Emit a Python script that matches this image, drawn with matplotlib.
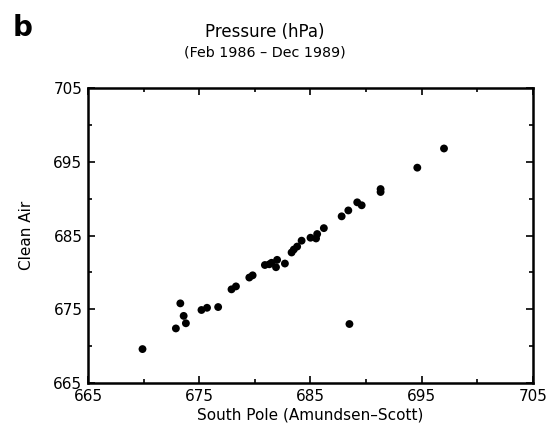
import matplotlib.pyplot as plt
import numpy as np

# South Pole vs Clean Air pressure (hPa), monthly means
south_pole = [669.9, 672.9, 673.3, 673.6, 673.8, 675.2, 675.7, 676.7, 677.9, 678.3,
              679.5, 679.8, 680.9, 681.3, 681.5, 681.9, 682.0, 682.7, 683.3, 683.5,
              683.8, 684.2, 685.0, 685.5, 685.6, 686.2, 687.8, 688.4, 689.2, 689.6,
              691.3, 691.3, 694.6, 697.0, 688.5]
clean_air = [669.6, 672.4, 675.8, 674.1, 673.1, 674.9, 675.2, 675.3, 677.7, 678.1,
             679.3, 679.6, 681.0, 681.1, 681.3, 680.7, 681.7, 681.2, 682.7, 683.1,
             683.5, 684.3, 684.7, 684.6, 685.2, 686.0, 687.6, 688.4, 689.5, 689.1,
             691.3, 690.9, 694.2, 696.8, 673.0]

ticks = [665, 675, 685, 695, 705]
tick_labels = ['665', '675', '685', '695', '705']

fig = plt.figure(figsize=(5.59, 4.30), dpi=100)
ax = fig.add_axes([0.1574, 0.1093, 0.7961, 0.686])

ax.scatter(south_pole, clean_air, s=32, color='black', edgecolors='none', zorder=3)

ax.set_xlim(665, 705)
ax.set_ylim(665, 705)
ax.set_xticks(ticks)
ax.set_xticklabels(tick_labels)
ax.set_yticks(ticks)
ax.set_yticklabels(tick_labels)
ax.set_xticks(np.arange(670, 705, 10), minor=True)
ax.set_yticks(np.arange(670, 705, 10), minor=True)
ax.tick_params(which='both', direction='in', top=True, right=True, width=1.2,
               labelsize=11, pad=4)
ax.tick_params(which='major', length=5)
ax.tick_params(which='minor', length=3)
for sp in ax.spines.values():
    sp.set_linewidth(1.8)

ax.set_xlabel('South Pole (Amundsen\u2013Scott)', fontsize=11, labelpad=3)
ax.set_ylabel('Clean Air', fontsize=11, labelpad=14)

fig.text(0.474, 0.925, 'Pressure (hPa)', ha='center', va='center', fontsize=12)
fig.text(0.474, 0.878, '(Feb 1986 \u2013 Dec 1989)', ha='center', va='center', fontsize=10.3)
fig.text(0.022, 0.935, 'b', ha='left', va='center', fontsize=20, fontweight='bold')

fig.savefig('out.png', dpi=100)
